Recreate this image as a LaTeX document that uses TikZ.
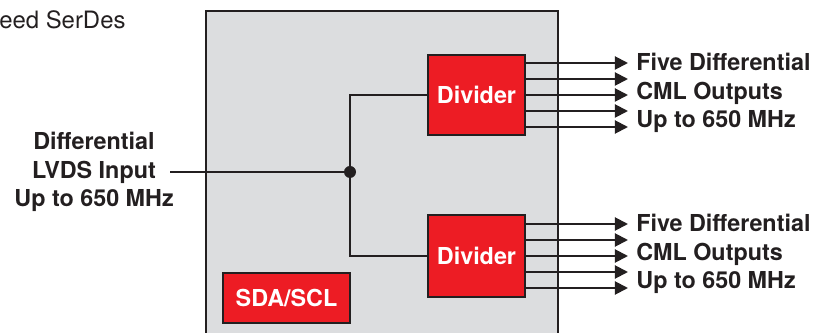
\documentclass[tikz,border=0pt]{standalone}
\usepackage{fontspec}
\setmainfont{TeX Gyre Heros}
\usetikzlibrary{arrows.meta}
\definecolor{tiRed}{HTML}{ED1C24}
\definecolor{chipGray}{HTML}{DCDDDF}
\definecolor{lineDark}{HTML}{231F20}

\begin{document}
\begin{tikzpicture}[x=0.025cm, y=-0.025cm,
    redbox/.style={draw=lineDark, line width=1.4pt, fill=tiRed, text=white,
        font=\fontsize{16.6}{19}\selectfont\bfseries, inner sep=0pt},
    wire/.style={draw=lineDark, line width=1.4pt},
    outarrow/.style={wire, -{Triangle[length=3.3mm, width=3.3mm]}},
    lbl/.style={font=\fontsize{16.6}{20.2}\selectfont\bfseries, text=lineDark, inner sep=0pt}]
    \useasboundingbox (0,0) rectangle (825,333);
    \clip (0,0) rectangle (825,333);

    % Chip outline
    \draw[draw=lineDark, line width=1.4pt, fill=chipGray] (206,11) rectangle (558,345);
    \node[anchor=west, inner sep=0pt, text=lineDark, font=\fontsize{17}{19}\selectfont] (title) at (-1,20) {eed SerDes};

    % Blocks
    \node[redbox, minimum width=2.425cm, minimum height=2cm] (div1) at (476.5,95) {Divider};
    \node[redbox, minimum width=2.425cm, minimum height=2.05cm] (div2) at (476.5,256) {Divider};
    \node[redbox, minimum width=3.175cm, minimum height=1.25cm] (sda) at (286.5,298) {SDA/SCL};

    % Input and fan-out
    \node[lbl, align=center] (inlbl) at (94,172) {Differential\\LVDS Input\\Up to 650 MHz};
    \coordinate (inpt) at (170,172);
    \node[circle, fill=lineDark, inner sep=0pt, minimum size=0.3cm] (jn) at (350,172) {};
    \draw[wire] (inpt) -- (jn);
    \draw[wire] (div1.west) -| (jn);
    \draw[wire] (div2.west) -| (jn);

    % Outputs
    \foreach \d in {div1, div2}
        \foreach \dy in {-32,-16,0,16,32}
            \draw[outarrow] (\d.east) ++(0,\dy) -- ++(102,0);
    \node[lbl, align=left, anchor=west] (out1) at (636,93) {Five Differential\\CML Outputs\\Up to 650 MHz};
    \node[lbl, align=left, anchor=west] (out2) at (636,254) {Five Differential\\CML Outputs\\Up to 650 MHz};

\end{tikzpicture}
\end{document}
